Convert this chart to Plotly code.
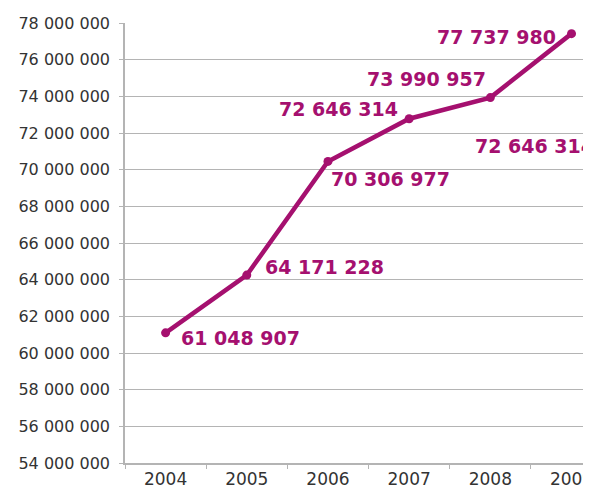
import plotly.graph_objects as go

years = ["2004", "2005", "2006", "2007", "2008", "2009"]
values = [61100000, 64250000, 70450000, 72780000, 73930000, 77420000]
label_texts = ["61 048 907", "64 171 228", "70 306 977", "72 646 314",
               "73 990 957", "77 737 980", "72 646 314"]
label_years = ["2004", "2005", "2006", "2007", "2008", "2009", "2008"]
y_ticks = list(range(54000000, 78000001, 2000000))
y_tick_text = [f"{v:,}".replace(",", " ") for v in y_ticks]

COLOR = "#A5106F"

fig = go.Figure()
fig.add_trace(go.Scatter(
    x=years, y=values, mode="lines+markers",
    line=dict(color=COLOR, width=4.5),
    marker=dict(color=COLOR, size=9),
    cliponaxis=False, showlegend=False,
))

# label placement (anchor, xshift, yshift) per label
placements = [
    ("left", 14, -5),
    ("left", 17, 8),
    ("left", 2, -18),
    ("right", -10, 10),
    ("right", -3, 19),
    ("right", -15, -3),
    ("left", -16, -48),
]
val_by_year = dict(zip(years, values))
for txt, yr, (anc, dx, dy) in zip(label_texts, label_years, placements):
    fig.add_annotation(
        x=years.index(yr), y=val_by_year[yr], xref="x", yref="y",
        text=txt, showarrow=False,
        xanchor=anc, yanchor="middle", xshift=dx, yshift=dy, borderpad=0,
        font=dict(family="DejaVu Sans", size=19, color=COLOR, weight="bold"),
    )

fig.update_layout(
    width=583, height=480,
    margin=dict(l=117, r=0, t=15, b=25),
    paper_bgcolor="white", plot_bgcolor="white",
    font=dict(family="DejaVu Sans", size=16, color="#3a3a3a"),
    xaxis=dict(
        type="category", range=[-0.5, 5.24], automargin=False,
        showgrid=False, showline=True, linecolor="#b4b4b4", linewidth=1.5,
        ticks="outside", tickson="boundaries", ticklen=4, tickcolor="#b4b4b4",
        ticklabelstandoff=0,
        tickfont=dict(size=17, color="#333333"),
    ),
    yaxis=dict(
        range=[54000000, 78000000], tickvals=y_ticks, ticktext=y_tick_text,
        automargin=False,
        showgrid=True, gridcolor="#b4b4b4", gridwidth=1.2,
        showline=True, linecolor="#b4b4b4", linewidth=1.5,
        ticks="outside", ticklen=4, tickcolor="#b4b4b4",
        ticklabelstandoff=6,
        tickfont=dict(size=16, color="#333333"),
        zeroline=False,
    ),
)
fig.write_html("out.html")
